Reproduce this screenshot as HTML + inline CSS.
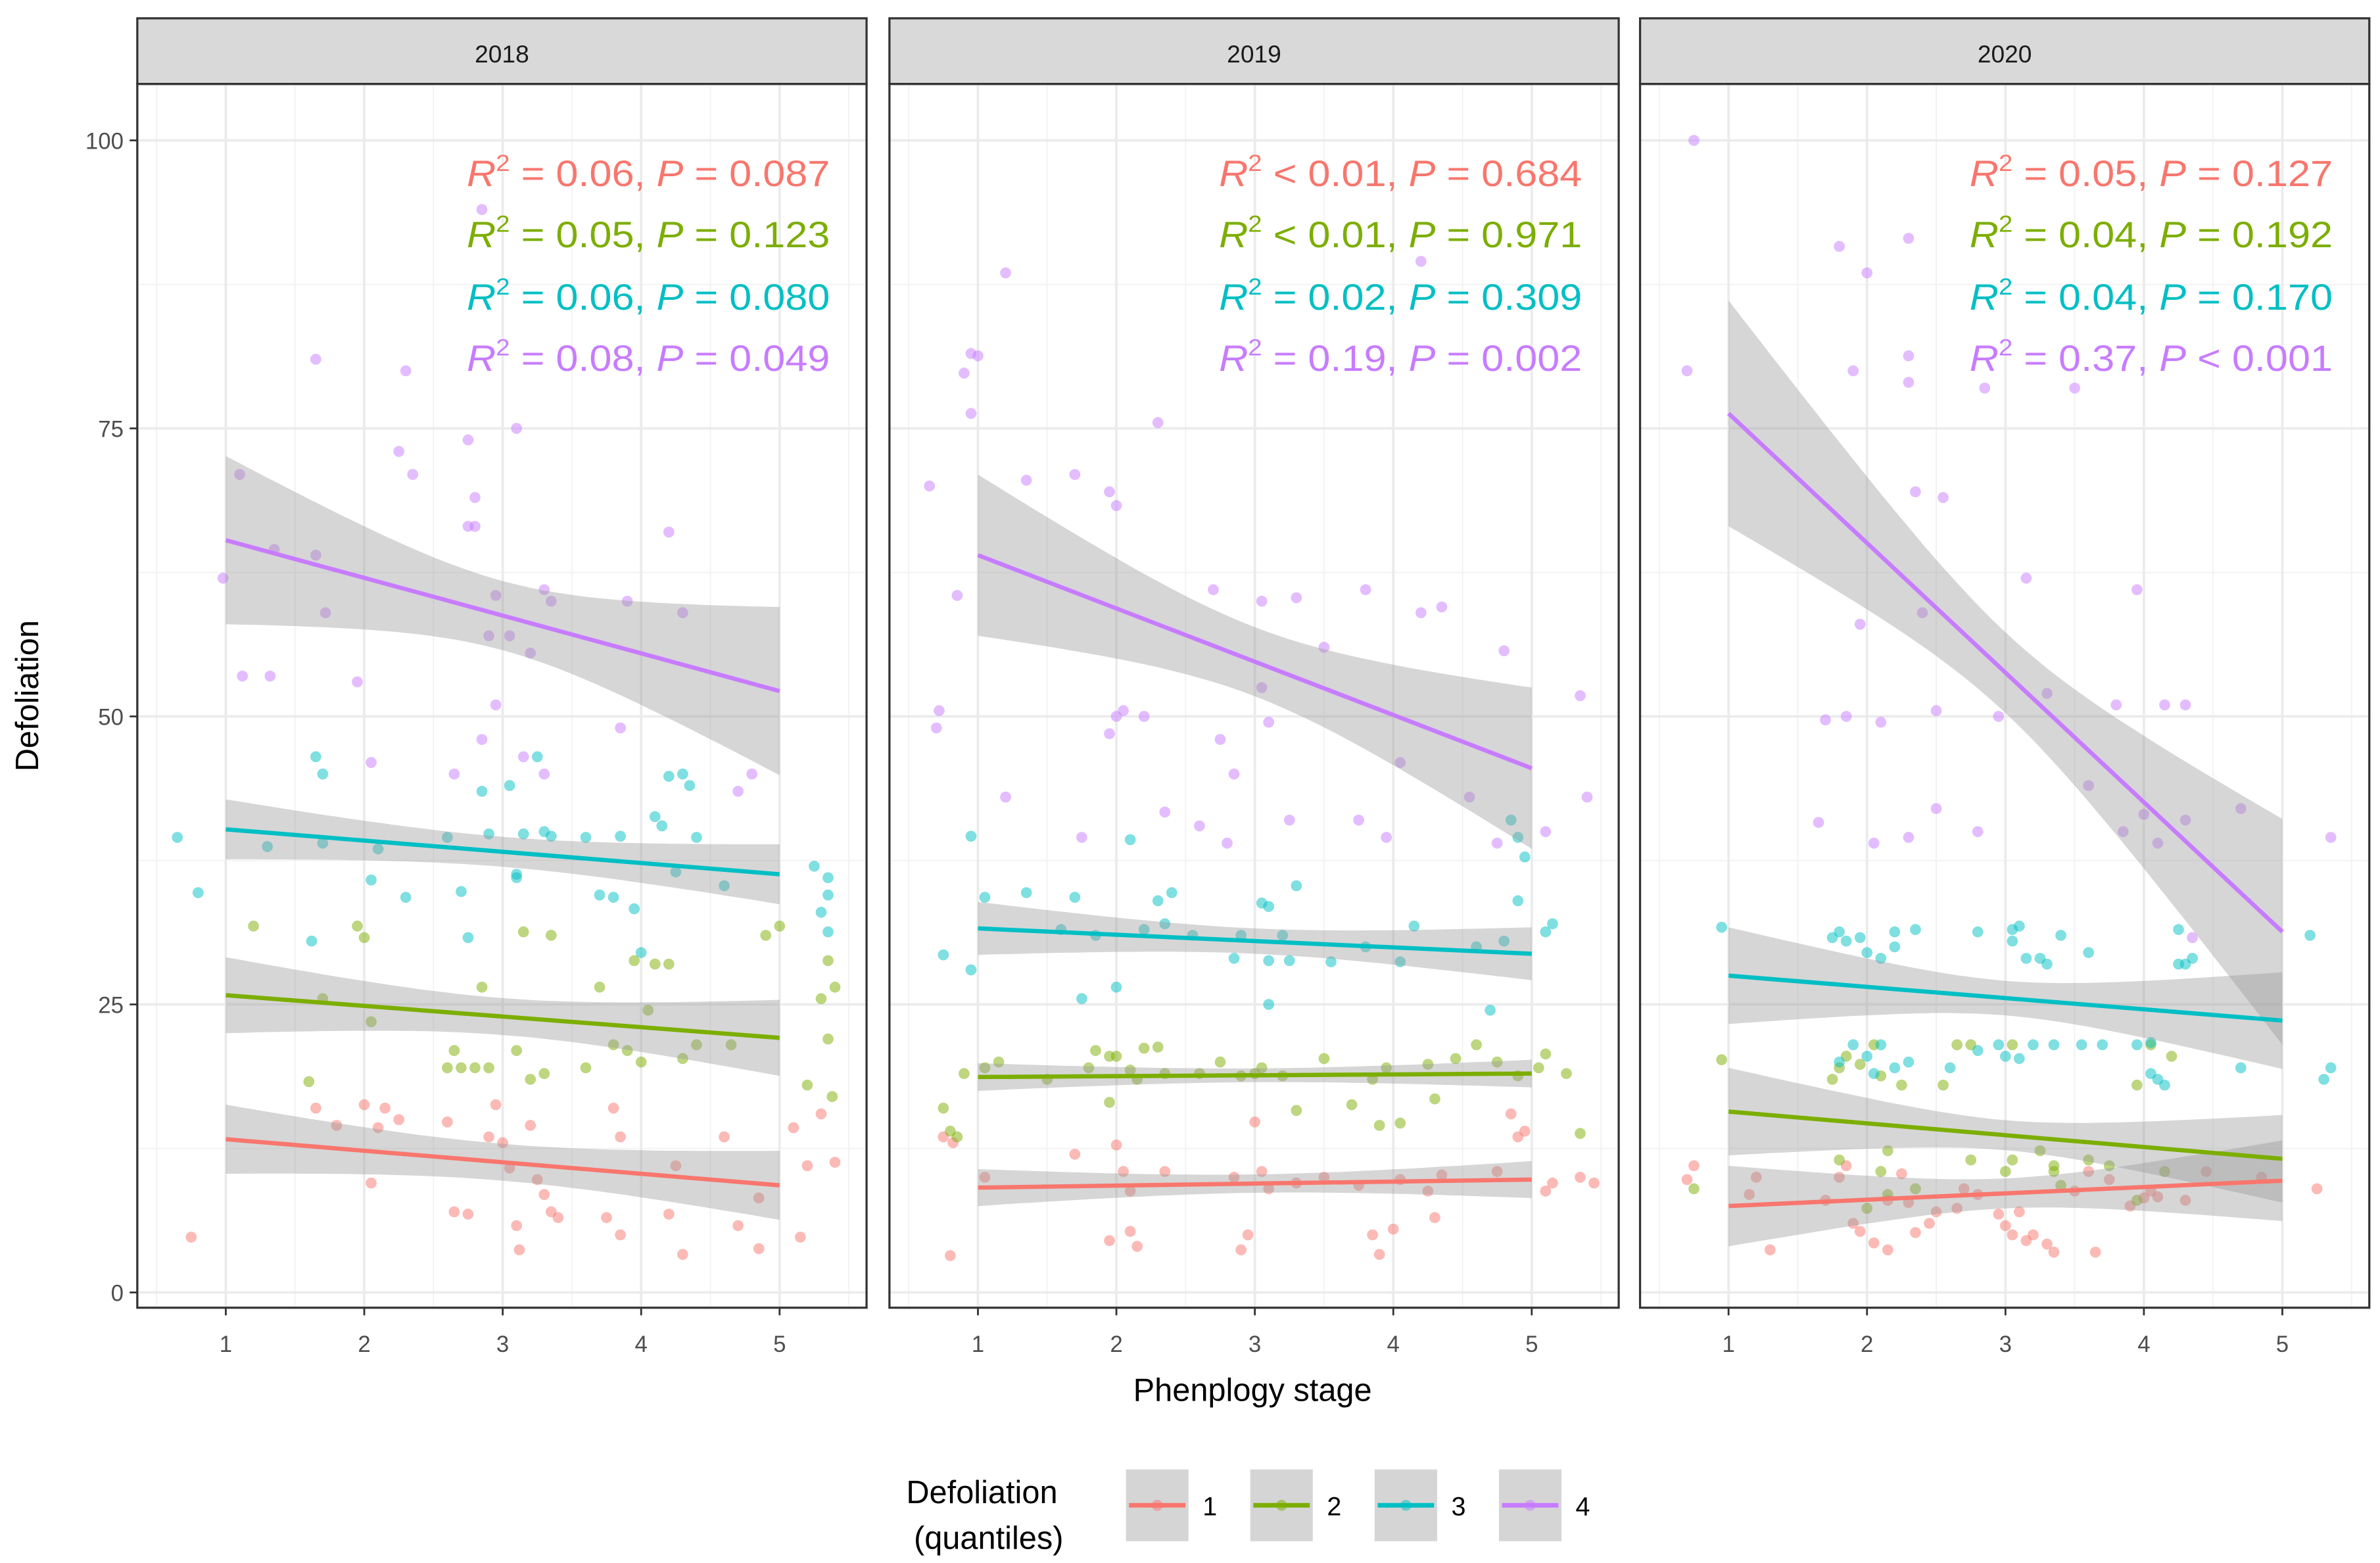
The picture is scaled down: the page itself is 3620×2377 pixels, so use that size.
<!DOCTYPE html>
<html><head><meta charset="utf-8"><style>
html,body{margin:0;padding:0;background:#fff;}
svg{display:block;font-family:"Liberation Sans",sans-serif;}
</style></head><body>
<svg id="chart" width="3620" height="2377" viewBox="0 0 1560 1024.3" preserveAspectRatio="none" xmlns="http://www.w3.org/2000/svg"></svg>
<script>
const years = ["2018","2019","2020"];
const groups = ["1","2","3","4"];
const colors = ["#F8766D","#7CAE00","#00BFC4","#C77CFF"];
const yTicks = [0,25,50,75,100];
const xTicks = [1,2,3,4,5];
// fitted line endpoints [y at x=1, y at x=5] per year, per group
const fit2018 = [[13.3,9.3],[25.8,22.1],[40.2,36.3],[65.3,52.2]];
const fit2019 = [[9.1,9.8],[18.7,19.0],[31.6,29.4],[64.0,45.5]];
const fit2020 = [[7.5,9.7],[15.7,11.6],[27.5,23.6],[76.3,31.3]];
// CI half-width [at ends, at middle]
const ci2018 = [[3.0,1.6],[3.3,1.6],[2.6,1.3],[7.3,3.0]];
const ci2019 = [[1.6,0.8],[1.2,0.6],[2.3,1.1],[7.0,3.0]];
const ci2020 = [[3.5,1.3],[3.8,1.3],[4.2,1.5],[9.8,3.5]];
const labels2018 = ["= 0.06, |P| = 0.087","= 0.05, |P| = 0.123","= 0.06, |P| = 0.080","= 0.08, |P| = 0.049"];
const labels2019 = ["< 0.01, |P| = 0.684","< 0.01, |P| = 0.971","= 0.02, |P| = 0.309","= 0.19, |P| = 0.002"];
const labels2020 = ["= 0.05, |P| = 0.127","= 0.04, |P| = 0.192","= 0.04, |P| = 0.170","= 0.37, |P| < 0.001"];
const pts2018_1 = [[0.75,4.8],[1.65,16],[1.8,14.5],[2.0,16.3],[2.05,9.5],[2.1,14.3],[2.15,16],[2.25,15],[2.6,14.8],[2.65,7],[2.75,6.8],[2.9,13.5],[2.95,16.3],[3.0,13],[3.05,10.8],[3.1,5.8],[3.12,3.7],[3.2,14.5],[3.25,9.8],[3.3,8.5],[3.35,7],[3.4,6.5],[3.75,6.5],[3.85,13.5],[3.85,5],[3.8,16],[4.2,6.8],[4.3,3.3],[4.25,11],[4.6,13.5],[4.7,5.8],[4.85,3.8],[5.1,14.3],[5.15,4.8],[5.2,11],[5.4,11.3],[5.3,15.5],[4.85,8.2]];
const pts2018_2 = [[1.2,31.8],[1.6,18.3],[1.7,25.5],[1.95,31.8],[2.0,30.8],[2.05,23.5],[2.65,21],[2.7,19.5],[2.8,19.5],[2.85,26.5],[2.9,19.5],[3.1,21],[3.15,31.3],[3.2,18.5],[3.35,31],[3.3,19],[3.6,19.5],[3.7,26.5],[3.8,21.5],[3.9,21],[3.95,28.8],[4.05,24.5],[4.1,28.5],[4.2,28.5],[4.3,20.3],[4.4,21.5],[4.65,21.5],[4.9,31],[5.0,31.8],[5.2,18],[5.3,25.5],[5.35,22],[5.38,17],[5.4,26.5],[5.35,28.8],[4.0,20],[2.6,19.5]];
const pts2018_3 = [[0.65,39.5],[0.8,34.7],[1.3,38.7],[1.65,46.5],[1.7,45],[1.62,30.5],[1.7,39],[2.05,35.8],[2.1,38.5],[2.3,34.3],[2.6,39.5],[2.7,34.8],[2.75,30.8],[2.9,39.8],[2.85,43.5],[3.05,44],[3.1,36.3],[3.1,36],[3.15,39.8],[3.25,46.5],[3.3,40],[3.35,39.6],[3.6,39.5],[3.7,34.5],[3.8,34.3],[3.85,39.6],[3.95,33.3],[4.1,41.3],[4.15,40.5],[4.2,44.8],[4.3,45],[4.35,44],[4.4,39.5],[4.6,35.3],[5.25,37],[5.35,36],[5.35,34.5],[5.3,33],[5.35,31.3],[4.0,29.5],[4.25,36.5]];
const pts2018_4 = [[0.98,62],[1.1,71],[1.12,53.5],[1.32,53.5],[1.35,64.5],[1.65,81],[1.65,64],[1.72,59],[1.95,53],[2.05,46],[2.25,73],[2.3,80],[2.35,71],[2.75,74],[2.75,66.5],[2.8,69],[2.8,66.5],[2.85,94],[2.9,57],[2.95,60.5],[2.95,51],[3.05,57],[3.1,75],[3.2,55.5],[3.3,61],[3.35,60],[3.9,60],[3.85,49],[4.2,66],[4.3,59],[4.7,43.5],[4.8,45],[3.15,46.5],[2.85,48],[2.65,45],[3.3,45]];
const pts2019_1 = [[0.8,3.2],[0.75,13.5],[0.82,13],[1.05,10],[1.7,12],[1.95,4.5],[2.0,12.8],[2.1,5.3],[2.15,4],[2.1,8.8],[2.35,10.5],[2.85,10],[2.9,3.7],[2.95,5],[3.0,14.8],[3.05,10.5],[3.1,9],[3.3,9.5],[3.5,10],[3.75,9.3],[3.85,5],[3.9,3.3],[4.0,5.5],[4.05,9.8],[4.25,8.8],[4.3,6.5],[4.35,10.2],[4.75,10.5],[4.85,15.5],[4.95,14],[5.1,8.8],[5.15,9.5],[5.35,10],[5.45,9.5],[4.9,13.5],[2.05,10.5]];
const pts2019_2 = [[0.75,16],[0.8,14],[0.85,13.5],[0.9,19],[1.05,19.5],[1.15,20],[1.5,18.5],[1.85,21],[1.95,16.5],[1.95,20.5],[2.0,20.5],[2.1,19.3],[2.15,18.5],[2.2,21.2],[2.3,21.3],[2.35,19],[2.6,19],[2.75,20],[2.9,18.8],[3.05,19.5],[3.2,18.8],[3.3,15.8],[3.5,20.3],[3.7,16.3],[3.85,18.5],[3.9,14.5],[3.95,19.5],[4.05,14.7],[4.25,19.8],[4.3,16.8],[4.45,20.3],[4.6,21.5],[4.9,18.8],[5.1,20.7],[5.05,19.5],[5.25,19],[5.35,13.8],[4.75,20],[1.8,19.5],[3.0,19]];
const pts2019_3 = [[0.75,29.3],[0.95,28],[0.95,39.6],[1.05,34.3],[1.35,34.7],[1.6,31.5],[1.7,34.3],[1.75,25.5],[1.85,31],[2.0,26.5],[2.2,31.5],[2.3,34],[2.35,32],[2.4,34.7],[2.55,31],[2.85,29],[2.9,31],[3.1,28.8],[3.05,33.8],[3.1,33.5],[3.1,25],[3.2,31],[3.25,28.8],[3.3,35.3],[3.55,28.7],[3.8,30],[4.05,28.7],[4.15,31.8],[4.6,30],[4.7,24.5],[4.85,41],[4.9,39.5],[4.95,37.8],[4.9,34],[5.1,31.3],[5.15,32],[4.8,30.5],[2.1,39.3]];
const pts2019_4 = [[0.65,70],[0.7,49],[0.72,50.5],[0.85,60.5],[0.9,79.8],[0.95,81.5],[1.0,81.3],[0.95,76.3],[1.2,88.5],[1.2,43],[1.35,70.5],[1.7,71],[1.95,69.5],[2.0,68.3],[2.0,50],[1.95,48.5],[2.05,50.5],[2.2,50],[2.3,75.5],[2.35,41.7],[2.6,40.5],[2.7,61],[2.75,48],[2.8,39],[2.85,45],[3.05,60],[3.05,52.5],[3.1,49.5],[3.25,41],[3.3,60.3],[3.5,56],[3.75,41],[3.8,61],[3.95,39.5],[4.05,46],[4.2,59],[4.35,59.5],[4.2,89.5],[4.8,55.7],[4.75,39],[5.1,40],[5.35,51.8],[5.4,43],[1.75,39.5],[4.55,43]];
const pts2020_1 = [[0.7,9.8],[0.75,11],[1.2,10],[1.15,8.5],[1.3,3.7],[1.7,8],[1.8,10],[1.85,11],[1.9,6],[1.95,5.3],[2.05,4.3],[2.15,3.7],[2.15,8],[2.3,7.8],[2.25,10.3],[2.35,5.2],[2.45,6],[2.5,7],[2.65,7.3],[2.8,8.5],[2.95,6.8],[3.0,5.8],[3.05,5],[3.15,4.5],[3.2,5],[3.3,4.2],[3.35,3.5],[3.6,10.5],[3.65,3.5],[3.75,9.8],[3.9,7.5],[4.0,8.2],[4.05,8.8],[4.1,8.3],[4.3,8],[4.45,10.5],[4.85,10],[5.25,9],[3.1,7],[2.7,9],[3.5,8.8]];
const pts2020_2 = [[0.95,20.2],[0.75,9],[1.75,18.5],[1.8,19.5],[1.8,11.5],[1.85,20.5],[1.95,19.8],[2.05,21.5],[2.1,18.8],[2.15,12.3],[2.25,18],[2.0,7.3],[2.15,8.5],[2.55,18],[2.65,21.5],[2.75,21.5],[3.05,21.5],[3.05,11.5],[2.75,11.5],[3.25,12.3],[3.35,10.5],[3.4,9.3],[3.6,11.5],[3.75,11],[3.95,18],[3.95,8],[4.05,21.5],[4.15,10.5],[4.2,20.5],[3.0,10.5],[2.35,9],[2.1,10.5],[3.35,11]];
const pts2020_3 = [[0.95,31.7],[1.75,30.8],[1.8,31.3],[1.85,30.5],[1.95,30.8],[2.0,29.5],[2.1,29],[2.2,31.3],[2.35,31.5],[2.2,30],[2.8,31.3],[3.05,30.5],[3.05,31.5],[3.15,29],[3.25,29],[3.3,28.5],[3.4,31],[3.2,21.5],[3.35,21.5],[3.55,21.5],[3.7,21.5],[2.8,21],[2.95,21.5],[3.1,20.3],[3.0,20.5],[2.6,19.5],[2.1,21.5],[2.2,19.5],[2.3,20],[1.9,21.5],[2.0,20.5],[2.05,19],[3.95,21.5],[4.05,21.7],[4.1,18.5],[4.25,28.5],[4.3,28.5],[4.35,29],[4.25,31.5],[4.7,19.5],[5.2,31],[5.3,18.5],[5.35,19.5],[4.15,18],[3.6,29.5],[3.1,31.8],[4.05,19],[1.8,20]];
const pts2020_4 = [[0.7,80],[0.75,100],[1.8,90.8],[1.85,50],[1.9,80],[1.95,58],[2.0,88.5],[2.1,49.5],[2.3,91.5],[2.3,81.3],[2.3,79],[2.35,69.5],[2.4,59],[2.5,50.5],[2.5,42],[2.55,69],[2.85,78.5],[2.8,40],[2.95,50],[3.15,62],[3.3,52],[3.5,78.5],[3.8,51],[3.85,40],[3.95,61],[4.0,41.5],[4.1,39],[4.15,51],[4.3,51],[4.3,41],[4.35,30.8],[4.7,42],[5.35,39.5],[1.65,40.8],[2.3,39.5],[2.05,39],[1.7,49.7],[3.6,44]];

const fits=[fit2018,fit2019,fit2020], cis=[ci2018,ci2019,ci2020], labs=[labels2018,labels2019,labels2020];
const pts=[[pts2018_1,pts2018_2,pts2018_3,pts2018_4],[pts2019_1,pts2019_2,pts2019_3,pts2019_4],[pts2020_1,pts2020_2,pts2020_3,pts2020_4]];

const NS="http://www.w3.org/2000/svg";
const svg=document.getElementById('chart');
function mk(tag,attrs,parent){const e=document.createElementNS(NS,tag);for(const k in attrs)e.setAttribute(k,attrs[k]);(parent||svg).appendChild(e);return e;}
const panelLeft=[90,583,1075], panelW=478, plotTop=55, plotBottom=857, stripTop=12;
function yScale(v){return 847-v*7.55;}
function xScale(p,v){return panelLeft[p]+58+(v-1)*90.75;}

for(let p=0;p<3;p++){
  const L=panelLeft[p], R=L+panelW;
  const g=mk('g',{});
  
  
  mk('rect',{x:L,y:plotTop,width:panelW,height:plotBottom-plotTop,fill:'#fff'},g);
  for(let v=12.5;v<=100;v+=25) mk('line',{x1:L,x2:R,y1:yScale(v),y2:yScale(v),stroke:'#f2f2f2','stroke-width':0.8},g);
  for(let v=0.5;v<=5.5;v+=1){const x=xScale(p,v);if(x>L&&x<R)mk('line',{x1:x,x2:x,y1:plotTop,y2:plotBottom,stroke:'#f2f2f2','stroke-width':0.8},g);}
  yTicks.forEach(v=>mk('line',{x1:L,x2:R,y1:yScale(v),y2:yScale(v),stroke:'#ebebeb','stroke-width':1.6},g));
  xTicks.forEach(v=>mk('line',{x1:xScale(p,v),x2:xScale(p,v),y1:plotTop,y2:plotBottom,stroke:'#ebebeb','stroke-width':1.6},g));
  for(let k=0;k<4;k++){
    pts[p][k].forEach(d=>{
      const c=mk('circle',{cx:xScale(p,d[0]),cy:yScale(d[1]),r:3.6,fill:colors[k],'fill-opacity':0.5},g);
      
      
    });
  }
  for(let k=0;k<4;k++){
    const f=fits[p][k], c=cis[p][k];
    const up=[],lo=[];
    for(let i=0;i<=40;i++){
      const xv=1+i*0.1, t=(xv-3)/2;
      const yv=f[0]+(f[1]-f[0])*(xv-1)/4;
      const h=Math.sqrt(c[1]*c[1]+(c[0]*c[0]-c[1]*c[1])*t*t);
      up.push(xScale(p,xv).toFixed(1)+','+yScale(yv+h).toFixed(1));
      lo.unshift(xScale(p,xv).toFixed(1)+','+yScale(yv-h).toFixed(1));
    }
    const b=mk('polygon',{points:up.concat(lo).join(' '),fill:'#999','fill-opacity':0.4},g);
    
    
  }
  for(let k=0;k<4;k++){
    const f=fits[p][k];
    const l=mk('line',{x1:xScale(p,1),y1:yScale(f[0]),x2:xScale(p,5),y2:yScale(f[1]),stroke:colors[k],'stroke-width':2.8},g);
    
    
  }
  const baselines=[122,162,203,243];
  for(let k=0;k<4;k++){
    const parts=labs[p][k].split('|');
    const t=mk('text',{x:L+454,y:baselines[k],'text-anchor':'end','font-size':24,fill:colors[k],textLength:238,lengthAdjust:'spacingAndGlyphs'},g);
    
    
    const a=mk('tspan',{'font-style':'italic'},t);a.textContent='R';
    const s=mk('tspan',{dy:-10,'font-size':15},t);s.textContent='2';
    const b=mk('tspan',{dy:10},t);b.textContent=' '+parts[0];
    const c2=mk('tspan',{'font-style':'italic'},t);c2.textContent=parts[1];
    const d=mk('tspan',{},t);d.textContent=parts[2];
  }
  mk('rect',{x:L,y:plotTop,width:panelW,height:plotBottom-plotTop,fill:'none',stroke:'#333','stroke-width':1.4},g);
  const st=mk('rect',{x:L,y:stripTop,width:panelW,height:plotTop-stripTop,fill:'#d9d9d9',stroke:'#333','stroke-width':1.4},g);
  
  
  const stt=mk('text',{x:L+panelW/2,y:41,'text-anchor':'middle','font-size':16,fill:'#1a1a1a'},g);
  stt.textContent=years[p];
  xTicks.forEach(v=>{
    mk('line',{x1:xScale(p,v),x2:xScale(p,v),y1:plotBottom,y2:plotBottom+5,stroke:'#333','stroke-width':1.2},g);
    const tx=mk('text',{x:xScale(p,v),y:886,'text-anchor':'middle','font-size':15,fill:'#4d4d4d'},g);
    
    
    tx.textContent=v;
  });
}
yTicks.forEach(v=>{
  mk('line',{x1:85,x2:90,y1:yScale(v),y2:yScale(v),stroke:'#333','stroke-width':1.2});
  const t=mk('text',{x:81,y:yScale(v)+5.5,'text-anchor':'end','font-size':15,fill:'#4d4d4d'});
  
  
  t.textContent=v;
});
const yt=mk('text',{x:0,y:0,transform:'translate(25,456) rotate(-90)','text-anchor':'middle','font-size':21,fill:'#000'});


yt.textContent='Defoliation';
const xt=mk('text',{x:821,y:918,'text-anchor':'middle','font-size':21,fill:'#000'});


xt.textContent='Phenplogy stage';
const lg=mk('g',{});


const lt1=mk('text',{x:594,y:985,'font-size':21,fill:'#000'},lg);lt1.textContent='Defoliation';
const lt2=mk('text',{x:599,y:1015,'font-size':21,fill:'#000'},lg);lt2.textContent='(quantiles)';
for(let k=0;k<4;k++){
  const x0=738+k*81.5;
  const e=mk('g',{},lg);
  
  
  mk('rect',{x:x0,y:963,width:41,height:47,fill:'#d5d5d5'},e);
  mk('line',{x1:x0+2,x2:x0+39,y1:986.5,y2:986.5,stroke:colors[k],'stroke-width':3},e);
  mk('circle',{cx:x0+20.5,cy:986.5,r:3.6,fill:colors[k],'fill-opacity':0.5},e);
  const t=mk('text',{x:x0+55,y:993,'text-anchor':'middle','font-size':17,fill:'#000'},e);t.textContent=groups[k];
}
</script>
</body></html>
